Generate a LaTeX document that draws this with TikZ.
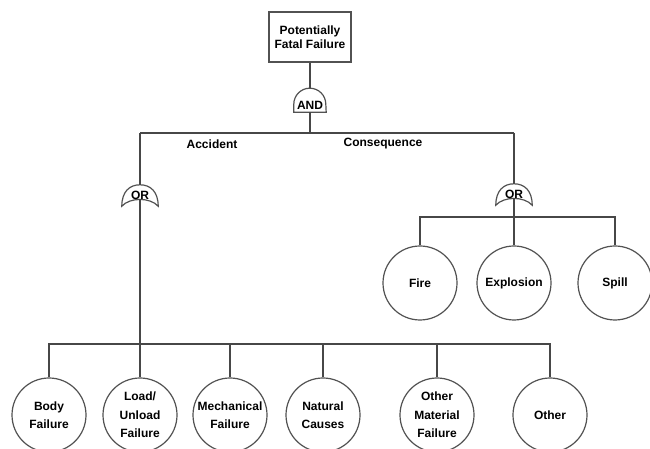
\documentclass[tikz,border=0pt]{standalone}
\usepackage{fontspec}
\setmainfont{Liberation Sans}
\begin{document}
\begin{tikzpicture}[x=1pt,y=1pt,
  wire/.style={draw=black!72, line width=1.3pt},
  outline/.style={draw=black!68, line width=1.2pt},
  txt/.style={font=\bfseries\fontsize{12}{14}\selectfont, text=black},
  topbox/.style={outline, txt, minimum width=82, minimum height=50, inner sep=0, align=center},
  event/.style={outline, circle, txt, minimum size=74, inner sep=0, align=center,
                font=\bfseries\fontsize{12}{18.5}\selectfont},
  andbox/.style={minimum width=32, minimum height=24, inner sep=0},
  orbox/.style={minimum width=36, minimum height=21, inner sep=0},
  gatetxt/.style={txt, inner sep=0},
  branch/.style={txt, inner sep=0}]
\clip (0,0) rectangle (650,449);
\fill[white] (0,0) rectangle (650,449);

% top event
\node[topbox] (top) at (310,412) {Potentially\\Fatal Failure};

% AND gate
\node[andbox] (and) at (310,349) {};
\draw[outline] (and.south west) -- ++(0,8) arc[start angle=180, end angle=0, radius=16] -- (and.south east) -- cycle;
\node[gatetxt] (andtxt) at ([yshift=-5]and.center) {AND};

% junctions on the main bar
\coordinate (andJ) at (310,316);
\coordinate (accJ) at (140,316);
\coordinate (conJ) at (514,316);

\draw[wire] (top.south) -- (and.north);
\draw[wire] (and.south) -- (andJ);
\draw[wire] (accJ) -- (conJ);

\node[branch] (acc) at (212,305) {Accident};
\node[branch] (con) at (383,305) {Consequence};

% OR gates
\node[orbox] (orL) at (140,253.5) {};
\node[orbox] (orR) at (514,254.5) {};
\foreach \g in {orL,orR}{
  \draw[outline] (\g.south west) .. controls +(0,15) and +(-10,0) .. (\g.north)
                 .. controls +(10,0) and +(0,15) .. (\g.south east)
                 .. controls +(-8,9) and +(8,9) .. (\g.south west) -- cycle;
  \coordinate (\g out) at ([yshift=7]\g.south);
}
\node[gatetxt] (orLtxt) at ([yshift=0]orL.center) {OR};
\node[gatetxt] (orRtxt) at ([yshift=0]orR.center) {OR};

\draw[wire] (accJ) -- (orL.north);
\draw[wire] (conJ) -- (orR.north);

% consequence events
\node[event] (fire) at (420,166) {Fire};
\node[event] (expl) at (514,166) {Explosion};
\node[event] (spill) at (615,166) {Spill};
\coordinate (cbar) at (514,232);
\draw[wire] (orRout) -- (expl.north);
\draw[wire] (fire.north) -- (fire.north |- cbar) -- (spill.north |- cbar) -- (spill.north);

% accident events
\node[event] (body) at (49,34) {Body\\Failure};
\node[event] (load) at (140,34) {Load/\\Unload\\Failure};
\node[event] (mech) at (230,34) {Mechanical\\Failure};
\node[event] (nat) at (323,34) {Natural\\Causes};
\node[event] (omat) at (437,34) {Other\\Material\\Failure};
\node[event] (oth) at (550,34) {Other};
\coordinate (abar) at (140,105);
\draw[wire] (orLout) -- (load.north);
\draw[wire] (body.north) -- (body.north |- abar) -- (oth.north |- abar) -- (oth.north);
\foreach \n in {mech,nat,omat}{
  \draw[wire] (\n.north) -- (\n.north |- abar);
}
\end{tikzpicture}
\end{document}
